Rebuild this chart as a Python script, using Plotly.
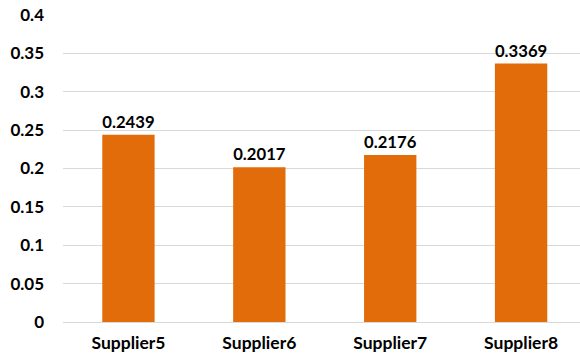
import plotly.graph_objects as go

suppliers = ["Supplier5", "Supplier6", "Supplier7", "Supplier8"]
scores = [0.2439, 0.2017, 0.2176, 0.3369]
y_ticks = [0, 0.05, 0.1, 0.15, 0.2, 0.25, 0.3, 0.35, 0.4]
y_tick_text = ["0", "0.05", "0.1", "0.15", "0.2", "0.25", "0.3", "0.35", "0.4"]

font_family = "Lato, 'Open Sans', sans-serif"

fig = go.Figure(
    go.Bar(
        x=suppliers,
        y=scores,
        width=0.4,
        marker=dict(color="#E36C0A", line=dict(width=0)),
        text=[f"{v:.4f}" for v in scores],
        textposition="outside",
        textfont=dict(family=font_family, size=17.5, color="#000000", weight="bold"),
        cliponaxis=False,
    )
)

fig.update_layout(
    width=580,
    height=361,
    margin=dict(l=63, r=0, t=15, b=39),
    paper_bgcolor="white",
    plot_bgcolor="white",
    showlegend=False,
    bargap=0.6,
    xaxis=dict(
        range=[-0.5, 3.45],
        showgrid=False,
        showline=False,
        ticks="",
        ticklabelstandoff=8,
        tickfont=dict(family=font_family, size=17.5, color="#000000", weight="bold"),
    ),
    yaxis=dict(
        range=[0, 0.4],
        tickvals=y_ticks,
        ticktext=y_tick_text,
        showgrid=True,
        gridcolor="#D9D9D9",
        gridwidth=1,
        zeroline=True,
        zerolinecolor="#D9D9D9",
        zerolinewidth=1,
        showline=False,
        ticks="",
        ticklabelstandoff=18,
        tickfont=dict(family=font_family, size=17, color="#000000", weight="bold"),
    ),
)

fig.write_html("out.html")
